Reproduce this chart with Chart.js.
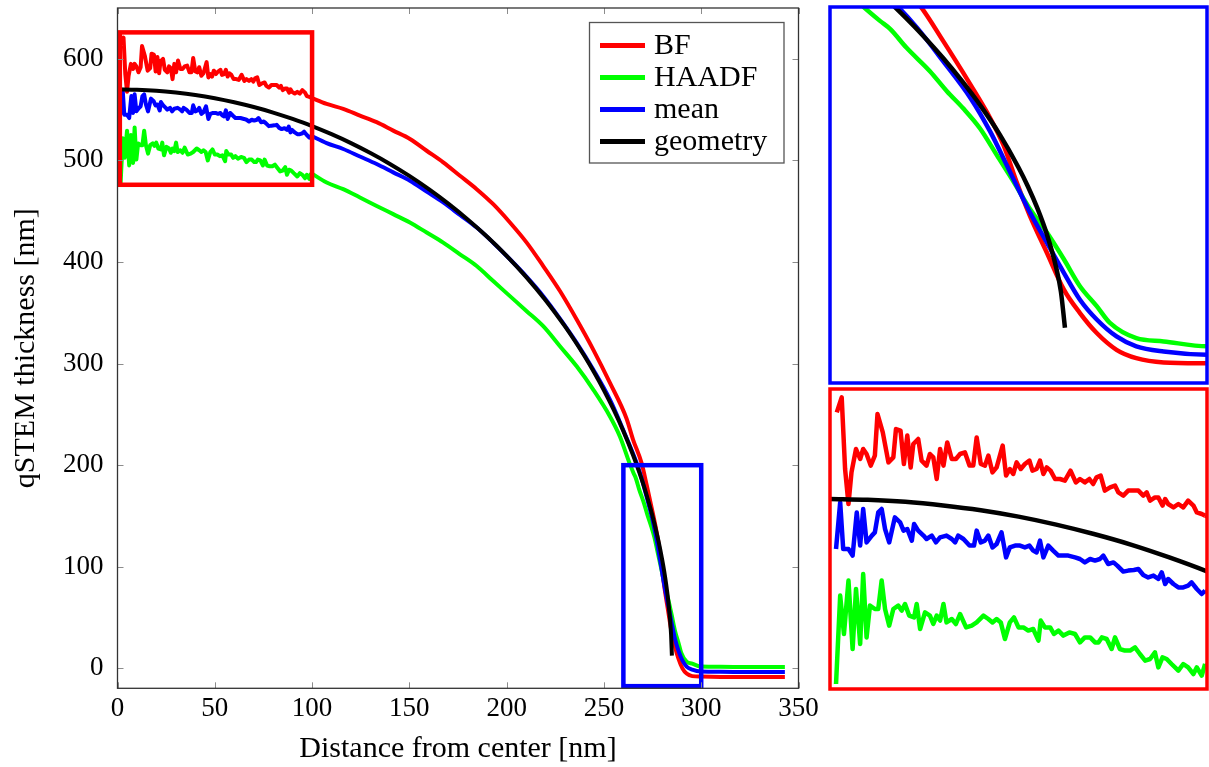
<!DOCTYPE html>
<html>
<head>
<meta charset="utf-8">
<title>qSTEM thickness</title>
<script src="https://cdn.jsdelivr.net/npm/chart.js@4.4.1/dist/chart.umd.min.js"></script>
<style>
  html, body { margin: 0; padding: 0; background: #fff; }
  body { width: 1209px; height: 767px; position: relative; overflow: hidden; }
  canvas { position: absolute; }
</style>
</head>
<body>
<canvas id="main" width="830" height="767" style="left:0px;top:0px"></canvas>
<canvas id="zoomEdge" width="381" height="380" style="left:828px;top:5px"></canvas>
<canvas id="zoomCenter" width="381" height="304" style="left:828px;top:387px"></canvas>
<script>
// data: [distance nm, thickness nm]
var bfPts = [
  [1.8,613.3],[3.1,620.8],[4.0,585],[4.9,567.5],[5.7,583.3],[6.9,595],[8.0,590],[8.8,595],[9.7,592.5],[10.8,586.7],
  [11.9,591.7],[12.6,612.5],[14.0,603.3],[15.5,588.3],[16.8,590.8],[17.5,605],[18.7,604.2],[19.6,587.5],[20.5,601.7],[21.4,585.8],
  [22.1,597.5],[23.4,600],[24.3,589.2],[25.6,586.7],[26.5,592.5],[27.4,590.8],[28.3,580],[29.2,595],[30.1,586.7],[31.1,598.3],
  [32.3,590],[33.4,590],[34.5,592.5],[35.8,593.3],[37.0,586.7],[38.0,586.7],[38.9,600.8],[40.0,587.5],[41.1,586.7],[42.0,591.7],
  [43.1,583.3],[44.2,585.8],[45.8,596.7],[46.7,581.7],[47.7,585],[48.6,582.5],[49.5,588.3],[50.6,585],[51.7,587.5],[52.9,589.2],
  [53.7,584.2],[54.8,585],[55.7,589.2],[56.6,582.5],[57.5,585.8],[58.5,584.2],[59.7,580],[61.0,580],[62.3,579.2],[63.8,584.2],
  [65.2,578.3],[66.3,580],[67.6,578.3],[68.8,580],[69.8,577.5],[70.7,580.8],[71.8,581.7],[72.9,574.2],[74.3,575.8],[75.6,576.7],
  [76.5,573.3],[77.8,571.7],[79.1,574.2],[80.5,574.2],[81.8,574.2],[83.1,571.7],[84.0,573.3],[84.9,569.2],[86.2,570.8],[87.1,570.8],
  [88.2,566.7],[88.9,570],[89.7,567.5],[91.1,565.8],[92.4,567.5],[93.7,565.8],[95.0,569.2],[96.4,566.7],[97.3,563.3],[98.6,562.5],
  [99.5,561.7],[107.5,555.6],[116,550.7],[124.6,544.1],[133.2,537.6],[141.7,529.3],[150.3,521.1],[158.9,509.5],[167.4,498.1],[176,484.9],
  [184.6,471.7],[193.1,456.9],[201.7,438.9],[210.3,419.1],[218.8,396],[227.4,371.4],[236,343.4],[244.5,313.8],[253.1,281],[261.6,246],
  [265,225],[269.4,201.8],[272.0,180.2],[274.9,154.7],[276.6,139],[278.4,119.4],[279.8,97.8],[281.2,78.2],[283.0,56.6],[284.8,35.1],
  [286.5,21.4],[288.3,9.6],[290.4,-0.2],[292.5,-5.1],[295.4,-7.6],[300,-8.1],[310,-8.4],[320,-8.5],[330,-8.6],[343,-8.6]
];
var haadfPts = [
  [1.6,477.5],[2.7,521.7],[3.7,502.5],[4.9,529.2],[6.0,495],[6.9,525],[8.0,497.5],[8.8,532.5],[9.7,500.8],[10.6,516.7],
  [11.9,515],[12.8,515],[13.7,529.2],[14.6,515],[15.7,506.7],[16.8,515],[18.1,516.7],[19.0,514.2],[19.9,517.5],[21.0,511.7],
  [22.3,510.8],[23.0,517.5],[23.9,505],[25.2,513.3],[26.5,511.7],[27.4,507.5],[28.3,511.7],[29.2,509.2],[30.1,517.5],[30.9,508.3],
  [32.3,510],[33.4,507.5],[34.5,512.5],[36.1,505.8],[37.6,506.7],[38.9,508.3],[40.7,511.7],[42.0,510],[43.1,508.3],[44.2,510],
  [45.3,508.3],[46.4,500],[47.7,508.3],[48.8,510.8],[50.0,505.8],[51.3,505.8],[52.6,504.2],[53.9,505],[55.3,499.2],[55.9,509.2],
  [57.0,505.8],[58.4,505.8],[59.4,502.5],[60.6,504.2],[61.9,501.7],[63.5,503.3],[65.0,502.5],[66.3,498.3],[67.6,500.8],[69.0,500.8],
  [70.3,498.3],[71.2,498.3],[72.1,500.8],[73.4,500],[74.7,495],[75.6,500.8],[76.9,495],[78.2,494.2],[79.6,494.2],[80.9,495.8],
  [82.2,492.5],[83.6,489.2],[84.9,490],[86.2,493.3],[87.1,485.8],[88.2,490.8],[89.3,490],[90.6,487.5],[92.4,484.2],[93.7,487.5],
  [95.0,485.8],[96.4,482.5],[97.3,485.8],[98.6,481.7],[99.5,487.5],[107.5,478.3],[116,471.7],[124.6,463.5],[133.2,455.2],[141.7,447.1],
  [150.3,438.9],[158.9,429],[167.4,419.1],[176,407.6],[184.6,396],[193.1,381.2],[201.7,366.4],[210.3,351.6],[218.8,336.8],[227.4,317.1],
  [236,297.3],[244.5,274.4],[253.1,248],[258.2,228.3],[263.2,201.8],[265.3,191.9],[266.4,187.1],[268.1,176.3],[270.6,162.5],[272.4,150.8],
  [274.1,141],[275.9,129.2],[277.7,113.5],[279.5,97.8],[281.2,82.2],[283.0,68.4],[284.8,52.8],[286.5,37.1],[288.3,25.3],[289.7,15.5],
  [292.5,6.6],[295.4,4.7],[300,1.8],[310,1.5],[320,1.4],[330,1.3],[343,1.3]
];
var meanPts = [
  [1.6,545],[2.7,568.3],[3.5,545],[4.9,545],[6.0,541.7],[7.1,563.3],[8.0,546.7],[8.8,565],[9.7,548.3],[11.1,551.7],
  [11.9,553.3],[12.8,563.3],[13.7,565],[14.6,555],[15.7,548.3],[17.2,560.8],[18.6,558.3],[19.5,554.2],[20.5,555],[21.7,549.2],
  [22.3,557.5],[23.4,554.2],[24.8,551.7],[25.6,550],[27.0,551.7],[28.1,548.3],[29.2,550.8],[30.9,551.7],[32.3,550],[33.2,548.3],
  [34.0,551.7],[35.4,550],[37.0,546.7],[38.2,546.7],[38.9,554.2],[40.0,548.3],[41.1,549.2],[42.0,551.7],[43.1,545.8],[44.2,547.5],
  [45.5,553.3],[46.7,540.8],[47.7,545.8],[49.1,546.7],[50.4,546.7],[51.7,545.8],[52.9,546.7],[53.9,544.2],[54.8,543.3],[55.7,549.2],
  [56.6,540.8],[57.9,546.7],[59.2,544.2],[60.6,541.7],[61.9,541.7],[63.2,541.7],[65.0,540.8],[66.3,540],[67.6,538.3],[69.0,540],
  [70.3,539.2],[71.6,540],[72.5,541.7],[73.8,537.5],[75.2,538.3],[76.2,536.7],[77.8,533.7],[79.1,534.2],[80.6,534.5],[81.8,535],
  [83.1,532],[84.4,530.8],[85.8,531.7],[87.1,530],[88.0,533.3],[88.9,527.5],[89.7,530],[91.1,527.5],[92.4,525.8],[93.7,525.8],
  [95.0,526.7],[95.9,528.3],[97.3,525],[98.6,522.5],[99.5,524.2],[107.5,517],[116,511.2],[124.6,503.8],[133.2,496.4],[141.7,488.2],
  [150.3,480],[158.9,469.3],[167.4,458.6],[176,446.3],[184.6,433.9],[193.1,419],[201.7,402.7],[210.3,385.4],[218.8,366.4],[227.4,344.3],
  [236,320.4],[244.5,294.1],[253.1,264.5],[260.5,232],[266.9,201.8],[269.2,188.1],[272.0,168.4],[274.9,146.9],[277.0,127.2],[279.1,103.7],
  [281.2,80.2],[283.0,62.5],[284.8,44.9],[286.5,29.2],[288.3,17.5],[290.4,7.6],[292.5,1.8],[295.4,-1.2],[300,-3.1],[310,-3.4],
  [320,-3.5],[330,-3.6],[343,-3.6]
];
var geoPts = [
  [0,570],[10,569.6],[20,568.6],[30,566.8],[40,564.4],[50,561.2],[60,557.2],[70,552.5],[80,547.1],[90,540.8],
  [100,533.8],[110,525.8],[120,517.0],[130,507.2],[140,496.5],[150,484.7],[160,471.7],[170,457.5],[180,441.9],[190,424.9],
  [200,406.1],[210,385.4],[220,362.4],[230,336.6],[235,322.5],[240,307.4],[245,291.2],[250,273.7],[255,254.6],[260,233.5],
  [265,209.8],[268,193.9],[270,182.5],[272,170.2],[274,156.8],[276,142.1],[278,125.6],[280,106.3],[281,95.2],[282,82.5],
  [283,67.4],[284,47.7],[284.5,33.7],[284.93,12.6]
];

var seriesNames = ['BF', 'HAADF', 'mean', 'geometry'];
var seriesColors = ['#ff0000', '#00ff00', '#0000ff', '#000000'];
var xTickValues = [0, 50, 100, 150, 200, 250, 300, 350];
var yTickValues = [0, 100, 200, 300, 400, 500, 600];
var mainX = [0, 350];
var mainY = [-19.6, 650];
var edgeX = [260, 300];
var edgeY = [-19.6, 200];
var centerX = [0, 100];
var centerY = [475, 625];
var noisyEnd = 99.5;   // measured curves are drawn straight up to here, smoothed after

Chart.defaults.font.family = '"Liberation Serif", "Times New Roman", serif';
Chart.defaults.color = '#000';

function toXY(pts) {
  return pts.map(function (p) { return { x: p[0], y: p[1] }; });
}

function makeSets(lw) {
  var sets = [];
  [bfPts, haadfPts, meanPts, geoPts].forEach(function (pts, i) {
    var base = {
      label: seriesNames[i],
      borderColor: seriesColors[i],
      backgroundColor: seriesColors[i],
      borderWidth: lw,
      borderJoinStyle: 'round',
      pointRadius: 0,
      fill: false,
      order: 3 - i,   // geometry on top
      clip: 0
    };
    if (seriesNames[i] === 'geometry') {
      sets.push(Object.assign({}, base, { data: toXY(pts), cubicInterpolationMode: 'monotone' }));
    } else {
      var head = pts.filter(function (p) { return p[0] <= noisyEnd; });
      var tail = pts.filter(function (p) { return p[0] >= noisyEnd; });
      sets.push(Object.assign({}, base, { data: toXY(head), tension: 0 }));
      sets.push(Object.assign({}, base, { data: toXY(tail), cubicInterpolationMode: 'monotone' }));
    }
  });
  return sets;
}

// zoom boxes drawn in data coordinates
var boxList = [
  { x: [1.2, 100], y: [476, 626], color: '#ff0000' },
  { x: [260, 300], y: [-17.5, 200], color: '#0000ff' }
];

var zoomBoxes = {
  id: 'zoomBoxes',
  afterDatasetsDraw: function (chart) {
    var ctx = chart.ctx, sx = chart.scales.x, sy = chart.scales.y;
    ctx.save();
    ctx.lineWidth = 4.5;
    boxList.forEach(function (b) {
      var x0 = sx.getPixelForValue(b.x[0]), x1 = sx.getPixelForValue(b.x[1]);
      var y0 = sy.getPixelForValue(b.y[1]), y1 = sy.getPixelForValue(b.y[0]);
      ctx.strokeStyle = b.color;
      ctx.strokeRect(x0, y0, x1 - x0, y1 - y0);
    });
    ctx.restore();
  }
};

// pgfplots style box with inward ticks
var frameTicks = {
  id: 'frameTicks',
  afterDraw: function (chart) {
    var ctx = chart.ctx, a = chart.chartArea, sx = chart.scales.x, sy = chart.scales.y;
    ctx.save();
    ctx.strokeStyle = '#8c8c8c';
    ctx.lineWidth = 1;
    ctx.beginPath();
    xTickValues.forEach(function (v) {
      var px = Math.round(sx.getPixelForValue(v)) + 0.5;
      ctx.moveTo(px, a.bottom); ctx.lineTo(px, a.bottom - 6);
      ctx.moveTo(px, a.top); ctx.lineTo(px, a.top + 6);
    });
    yTickValues.forEach(function (v) {
      var py = Math.round(sy.getPixelForValue(v)) + 0.5;
      ctx.moveTo(a.left, py); ctx.lineTo(a.left + 6, py);
      ctx.moveTo(a.right, py); ctx.lineTo(a.right - 6, py);
    });
    ctx.stroke();
    ctx.strokeStyle = '#333';
    ctx.lineWidth = 1.3;
    ctx.strokeRect(a.left, a.top, a.right - a.left, a.bottom - a.top);
    ctx.restore();
  }
};

var legendBox = {
  id: 'legendBox',
  afterDraw: function (chart) {
    var ctx = chart.ctx;
    ctx.save();
    ctx.fillStyle = '#fff';
    ctx.fillRect(589.5, 22.5, 194.5, 140.5);
    ctx.strokeStyle = '#555';
    ctx.lineWidth = 1.3;
    ctx.strokeRect(589.5, 22.5, 194.5, 140.5);
    ctx.font = '30px "Liberation Serif", serif';
    ctx.textBaseline = 'alphabetic';
    ctx.textAlign = 'left';
    seriesNames.forEach(function (name, i) {
      var base = 54 + i * 32;
      ctx.strokeStyle = seriesColors[i];
      ctx.lineWidth = 5;
      ctx.beginPath();
      ctx.moveTo(600, base - 8.5);
      ctx.lineTo(645, base - 8.5);
      ctx.stroke();
      ctx.fillStyle = '#000';
      ctx.fillText(name, 654, base);
    });
    ctx.restore();
  }
};

function insetFrame(color) {
  return {
    id: 'insetFrame',
    afterDraw: function (chart) {
      var a = chart.chartArea, ctx = chart.ctx;
      ctx.save();
      ctx.strokeStyle = color;
      ctx.lineWidth = 3.5;
      ctx.strokeRect(a.left, a.top, a.right - a.left, a.bottom - a.top);
      ctx.restore();
    }
  };
}

var mainChart = new Chart(document.getElementById('main'), {
  type: 'line',
  data: { datasets: makeSets(4) },
  options: {
    responsive: false,
    animation: false,
    devicePixelRatio: 1,
    events: [],
    layout: { padding: { left: 0, right: 31.5, top: 8, bottom: 0 } },
    plugins: { legend: { display: false }, tooltip: { enabled: false } },
    scales: {
      x: {
        type: 'linear',
        min: mainX[0], max: mainX[1],
        grid: { display: false, drawTicks: false },
        border: { display: false },
        ticks: { font: { size: 27 }, color: '#000', padding: 4, maxRotation: 0, autoSkip: false },
        title: { display: true, text: 'Distance from center [nm]', font: { size: 30 }, color: '#000', padding: { top: 0, bottom: 0 } },
        afterBuildTicks: function (s) { s.ticks = xTickValues.map(function (v) { return { value: v }; }); },
        afterFit: function (s) { s.height = 78.7; s.paddingLeft = 0; s.paddingRight = 0; }
      },
      y: {
        type: 'linear',
        min: mainY[0], max: mainY[1],
        grid: { display: false, drawTicks: false },
        border: { display: false },
        ticks: { font: { size: 27 }, color: '#000', padding: 14, autoSkip: false },
        title: { display: true, text: 'qSTEM thickness [nm]', font: { size: 30 }, color: '#000', padding: { top: 8, bottom: 0 } },
        afterBuildTicks: function (s) { s.ticks = yTickValues.map(function (v) { return { value: v }; }); },
        afterFit: function (s) { s.width = 117.5; s.paddingTop = 0; s.paddingBottom = 0; }
      }
    }
  },
  plugins: [zoomBoxes, frameTicks, legendBox]
});

function insetChart(id, xr, yr, color) {
  return new Chart(document.getElementById(id), {
    type: 'line',
    data: { datasets: makeSets(4.5) },
    options: {
      responsive: false,
      animation: false,
      devicePixelRatio: 1,
      events: [],
      layout: { padding: 2 },
      plugins: { legend: { display: false }, tooltip: { enabled: false } },
      scales: {
        x: { type: 'linear', display: false, min: xr[0], max: xr[1] },
        y: { type: 'linear', display: false, min: yr[0], max: yr[1] }
      }
    },
    plugins: [insetFrame(color)]
  });
}

var edgeChart = insetChart('zoomEdge', edgeX, edgeY, '#0000ff');
var centerChart = insetChart('zoomCenter', centerX, centerY, '#ff0000');
</script>
</body>
</html>
